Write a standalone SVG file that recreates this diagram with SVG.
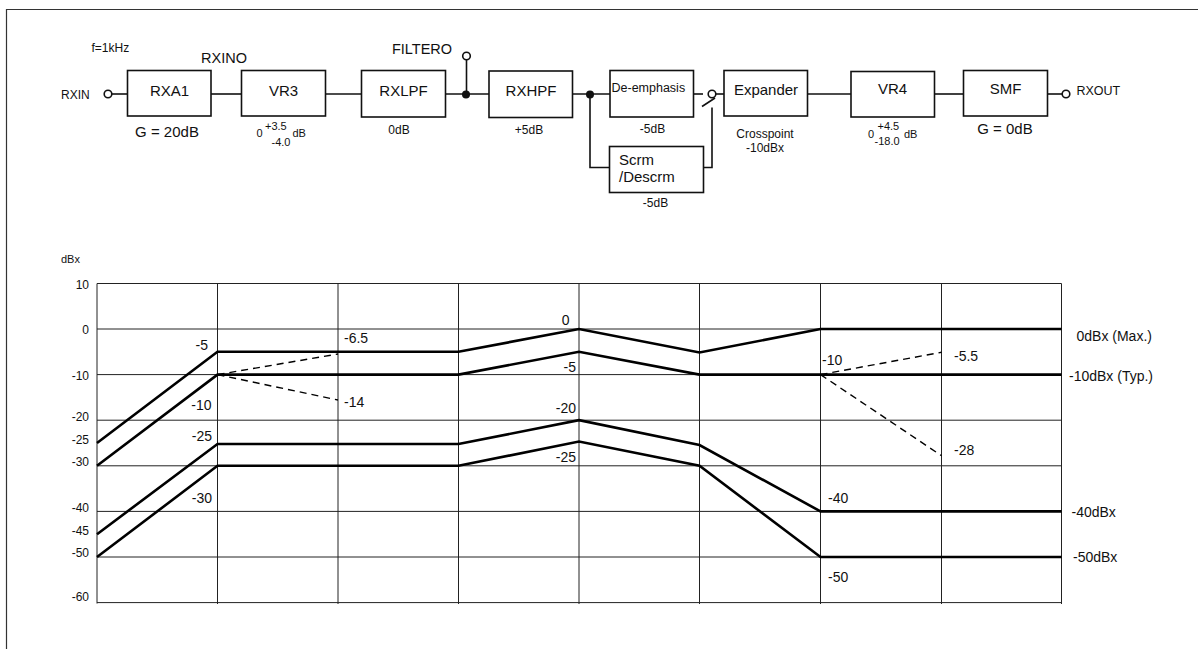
<svg xmlns="http://www.w3.org/2000/svg" width="1198" height="649" viewBox="0 0 1198 649">
<style>
text{font-family:"Liberation Sans",Arial,sans-serif;fill:#111}
.box{fill:#fff;stroke:#111;stroke-width:1.6}
.w{fill:none;stroke:#111;stroke-width:1.6}
.pin{fill:#fff;stroke:#111;stroke-width:1.6}
.dot{fill:#111}
.bl{font-size:15px;text-anchor:middle}
.gl{font-size:12px;text-anchor:middle}
.grid{fill:none;stroke:#222;stroke-width:1}
.ax{font-size:12px;text-anchor:end}
.cv{fill:none;stroke:#000;stroke-width:2.6;stroke-linejoin:miter}
.ds{fill:none;stroke:#000;stroke-width:1.4;stroke-dasharray:7,5}
.lb{font-size:14px}
.sm{font-size:11px}
</style>
<path d="M6.5,649 V9.5 H1198" fill="none" stroke="#333" stroke-width="1.2"/>

<g id="connectors">
<line class="w" x1="112" y1="94" x2="127.5" y2="94"/>
<line class="w" x1="211" y1="94" x2="241.5" y2="94"/>
<line class="w" x1="325.5" y1="94" x2="361.5" y2="94"/>
<line class="w" x1="445.5" y1="94" x2="489" y2="94"/>
<line class="w" x1="466.5" y1="94" x2="466.5" y2="60"/>
<line class="w" x1="572.5" y1="94" x2="610" y2="94"/>
<path class="w" d="M590,94 V167.5 H609.5"/>
<line class="w" x1="693.5" y1="94" x2="703" y2="94"/>
<path class="w" d="M703.5,167.5 H712 V107.5"/>
<line class="w" x1="702" y1="106.5" x2="715" y2="98"/>
<line class="w" x1="716" y1="94" x2="724" y2="94"/>
<line class="w" x1="807.5" y1="94" x2="851" y2="94"/>
<line class="w" x1="934.5" y1="94" x2="963.5" y2="94"/>
<line class="w" x1="1047.5" y1="94" x2="1062" y2="94"/>
</g>

<g id="pins">
<circle class="pin" cx="108" cy="94" r="3.8"/>
<circle class="pin" cx="466.5" cy="56" r="3.8"/>
<circle class="pin" cx="712" cy="94" r="3.8"/>
<circle class="pin" cx="1066" cy="94" r="3.8"/>
<circle class="dot" cx="466" cy="94.5" r="4"/>
<circle class="dot" cx="590" cy="94.5" r="4"/>
</g>

<g id="labels-top">
<text x="91.5" y="52" style="font-size:12px">f=1kHz</text>
<text x="61" y="99" style="font-size:12px">RXIN</text>
<text x="224" y="62.5" style="font-size:14.5px;text-anchor:middle">RXINO</text>
<text x="422" y="54" style="font-size:14.5px;text-anchor:middle">FILTERO</text>
<text x="1076.5" y="94.5" style="font-size:12.5px">RXOUT</text>
</g>

<g id="RXA1">
<rect class="box" x="127.5" y="70.5" width="83.5" height="45.5"/>
<text class="bl" x="169.5" y="96">RXA1</text>
<text class="bl" x="167" y="137">G = 20dB</text>
</g>
<g id="VR3">
<rect class="box" x="241.5" y="70.5" width="84" height="45.5"/>
<text class="bl" x="283.5" y="96">VR3</text>
<text class="sm" x="256.5" y="136.5">0</text>
<text class="sm" x="265" y="129.5">+3.5</text>
<text class="sm" x="271.5" y="145.5">-4.0</text>
<text class="sm" x="292.5" y="136.5">dB</text>
</g>
<g id="RXLPF">
<rect class="box" x="361.5" y="70.5" width="84" height="46.5"/>
<text class="bl" x="403.5" y="96">RXLPF</text>
<text class="gl" x="399" y="134">0dB</text>
</g>
<g id="RXHPF">
<rect class="box" x="489" y="71" width="83.5" height="46.5"/>
<text class="bl" x="531" y="96">RXHPF</text>
<text class="gl" x="529" y="133.5">+5dB</text>
</g>
<g id="De-emphasis">
<rect class="box" x="610" y="70.5" width="83.5" height="46.5"/>
<text x="611.5" y="92" style="font-size:12.5px">De-emphasis</text>
<text class="gl" x="652.5" y="133">-5dB</text>
</g>
<g id="Scrm">
<rect class="box" x="609.5" y="146.5" width="94" height="46"/>
<text x="619" y="165" style="font-size:15px">Scrm</text>
<text x="619" y="181.5" style="font-size:15px">/Descrm</text>
<text class="gl" x="655.5" y="207">-5dB</text>
</g>
<g id="Expander">
<rect class="box" x="724" y="70.5" width="83.5" height="45.5"/>
<text class="bl" x="766" y="95">Expander</text>
<text class="gl" x="765" y="137.5">Crosspoint</text>
<text class="gl" x="765" y="152">-10dBx</text>
</g>
<g id="VR4">
<rect class="box" x="851" y="71.5" width="83.5" height="45.5"/>
<text class="bl" x="892.5" y="94">VR4</text>
<text class="sm" x="868" y="138">0</text>
<text class="sm" x="877.5" y="130">+4.5</text>
<text class="sm" x="874.5" y="145">-18.0</text>
<text class="sm" x="904" y="137.5">dB</text>
</g>
<g id="SMF">
<rect class="box" x="963.5" y="70.5" width="84" height="45.5"/>
<text class="bl" x="1005.5" y="93.5">SMF</text>
<text class="bl" x="1005" y="133.5">G = 0dB</text>
</g>

<g id="chart">
<g class="grid">
<path d="M97,283.5 H1061.5 M97,329 H1061.5 M97,374.6 H1061.5 M97,420.2 H1061.5 M97,465.8 H1061.5 M97,511.4 H1061.5 M97,557 H1061.5 M97,602.6 H1061.5"/>
<path d="M97,283.5 V603.5 M217.5,283.5 V604 M338,283.5 V604 M458.5,283.5 V604 M579,283.5 V604 M699.5,283.5 V604 M820.5,283.5 V604 M941.5,283.5 V604 M1061.5,283.5 V604"/>
</g>
<text x="61" y="263" style="font-size:11px">dBx</text>
<g class="ax">
<text x="89" y="289">10</text>
<text x="89" y="334">0</text>
<text x="89" y="380">-10</text>
<text x="89" y="421">-20</text>
<text x="89" y="443.5">-25</text>
<text x="89" y="465.5">-30</text>
<text x="89" y="512">-40</text>
<text x="89" y="534.5">-45</text>
<text x="89" y="556.5">-50</text>
<text x="89" y="600.5">-60</text>
</g>
<path class="cv" d="M97,443 L217.5,351.8 H458.5 L579,329 L699.5,352.5 L820.5,329 H1061.5"/>
<path class="cv" d="M97,465.8 L217.5,374.6 H458.5 L579,351.8 L699.5,374.6 H1061.5"/>
<path class="cv" d="M97,534.2 L217.5,444 H458.5 L579,420.2 L699.5,445 L820.5,511.4 H1061.5"/>
<path class="cv" d="M97,557 L217.5,465.8 H458.5 L579,441.5 L699.5,465.8 L820.5,557 H1061.5"/>
<path class="ds" d="M217.5,374.6 L338,354 M217.5,374.6 L338,400"/>
<path class="ds" d="M820.5,374.6 L941.5,352.3 M820.5,374.6 L941.5,455.7"/>
<g class="lb">
<text x="208" y="350" text-anchor="end">-5</text>
<text x="344" y="343">-6.5</text>
<text x="211.5" y="410" text-anchor="end">-10</text>
<text x="344" y="407">-14</text>
<text x="212" y="440.5" text-anchor="end">-25</text>
<text x="212" y="502.5" text-anchor="end">-30</text>
<text x="569.5" y="325" text-anchor="end">0</text>
<text x="576" y="372" text-anchor="end">-5</text>
<text x="576" y="413" text-anchor="end">-20</text>
<text x="576" y="461.5" text-anchor="end">-25</text>
<text x="822" y="365">-10</text>
<text x="954" y="361">-5.5</text>
<text x="954" y="455">-28</text>
<text x="828" y="503">-40</text>
<text x="828" y="581.5">-50</text>
<text x="1076.5" y="341">0dBx (Max.)</text>
<text x="1069" y="380.5">-10dBx (Typ.)</text>
<text x="1071.5" y="517">-40dBx</text>
<text x="1073" y="561.5">-50dBx</text>
</g>
</g>
</svg>
